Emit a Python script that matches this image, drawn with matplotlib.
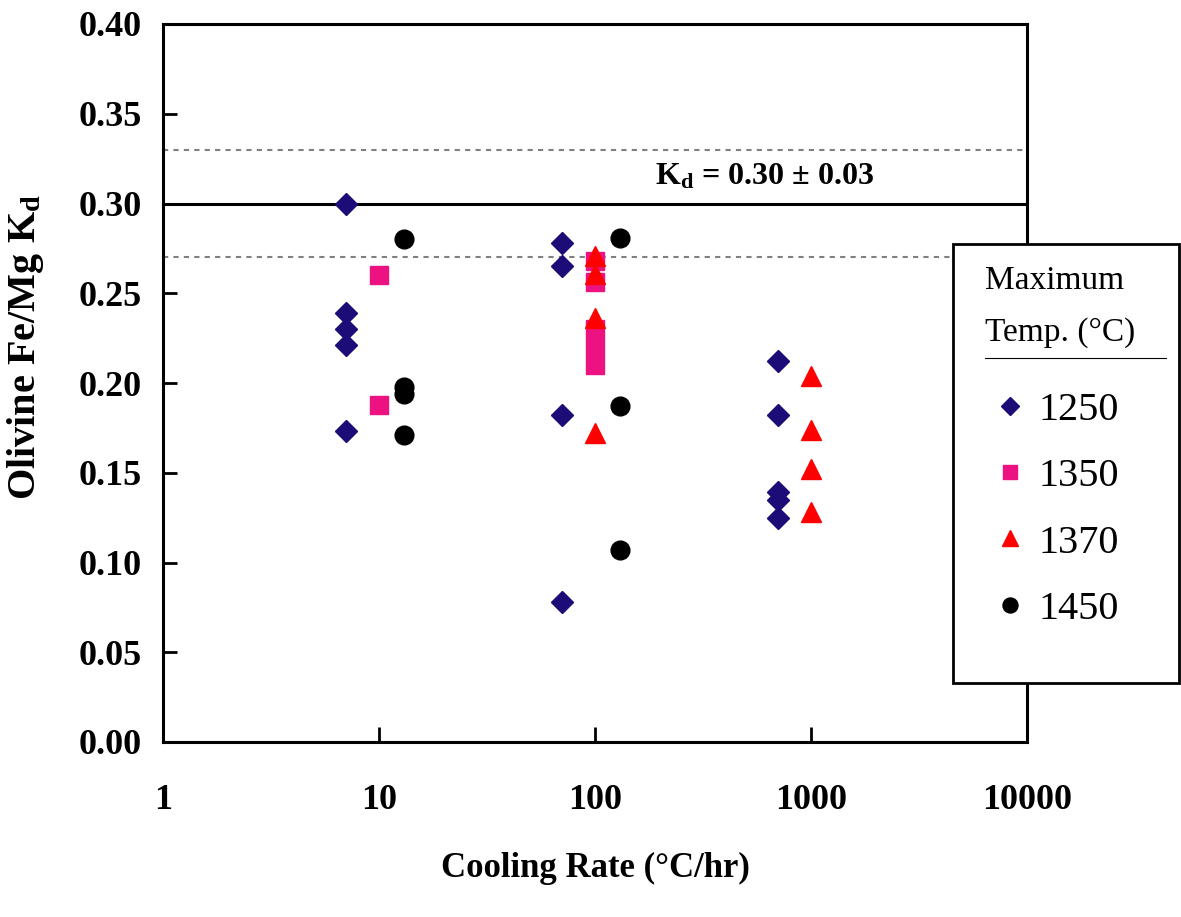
import matplotlib
matplotlib.use('Agg')
import matplotlib.pyplot as plt
from matplotlib.patches import Rectangle
from matplotlib.lines import Line2D

plt.rcParams['font.family'] = ['Liberation Serif', 'DejaVu Serif']
plt.rcParams['mathtext.fontset'] = 'custom'
plt.rcParams['mathtext.rm'] = 'Liberation Serif'
plt.rcParams['mathtext.bf'] = 'Liberation Serif:bold'
plt.rcParams['mathtext.it'] = 'Liberation Serif:italic'

# data
rate_1250 = [7, 7, 7, 7, 7, 70, 70, 70, 70, 700, 700, 700, 700, 700]
kd_1250 = [0.300, 0.239, 0.230, 0.221, 0.173, 0.278, 0.265, 0.182, 0.078,
           0.212, 0.182, 0.139, 0.135, 0.125]
rate_1350 = [10, 10, 100, 100, 100, 100, 100]
kd_1350 = [0.260, 0.188, 0.268, 0.256, 0.230, 0.220, 0.210]
rate_1370 = [100, 100, 100, 100, 1000, 1000, 1000, 1000]
kd_1370 = [0.271, 0.261, 0.236, 0.172, 0.204, 0.174, 0.152, 0.128]
rate_1450 = [13, 13, 13, 13, 130, 130, 130]
kd_1450 = [0.280, 0.198, 0.194, 0.171, 0.281, 0.187, 0.107]

kd_mean = 0.30
kd_err = 0.03

x_ticks = [1, 10, 100, 1000, 10000]
x_labels = ['1', '10', '100', '1000', '10000']
y_ticks = [0.0, 0.05, 0.10, 0.15, 0.20, 0.25, 0.30, 0.35, 0.40]
y_labels = ['0.00', '0.05', '0.10', '0.15', '0.20', '0.25', '0.30', '0.35', '0.40']
legend_labels = ['1250', '1350', '1370', '1450']

W, H = 1181, 917
fig = plt.figure(figsize=(W / 100, H / 100), dpi=100)
ax = fig.add_axes([163 / W, 1 - 742 / H, (1027 - 163) / W, (742 - 24) / H])

# Kd reference lines
ax.axhline(kd_mean, color='black', lw=2.2, zorder=1)
ax.axhline(kd_mean + kd_err, color='#808080', lw=1.5, ls=(0, (2.5, 2.5)), zorder=1)
ax.axhline(kd_mean - kd_err, color='#808080', lw=1.5, ls=(0, (2.5, 2.5)), zorder=1)

h1, = ax.plot(rate_1250, kd_1250, 'D', ms=11, color='#1B0C78', ls='none', zorder=3)
h2, = ax.plot(rate_1350, kd_1350, 's', ms=12.5, color='#EC1282', ls='none', zorder=3)
h3, = ax.plot(rate_1370, kd_1370, '^', ms=15, color='#FF0000', ls='none', zorder=4)
h4, = ax.plot(rate_1450, kd_1450, 'o', ms=13.5, color='black', ls='none', zorder=3)

ax.text(610, 0.315, r'K$_{\mathbf{d}}$ = 0.30 ± 0.03', fontsize=23, fontweight='bold',
        ha='center', va='center')

ax.set_xscale('log')
ax.set_xlim(1, 10000)
ax.set_ylim(0, 0.40)
ax.set_xticks(x_ticks)
ax.set_xticklabels(x_labels)
ax.xaxis.set_minor_locator(matplotlib.ticker.NullLocator())
ax.set_yticks(y_ticks)
ax.set_yticklabels(y_labels)

ax.tick_params(axis='x', direction='in', length=11, width=2, pad=30, labelsize=26)
ax.tick_params(axis='y', direction='in', length=10, width=2, pad=15, labelsize=26)
for lab in ax.get_xticklabels() + ax.get_yticklabels():
    lab.set_fontweight('bold')
for sp in ax.spines.values():
    sp.set_linewidth(2.2)

ax.set_xlabel('Cooling Rate (°C/hr)', fontsize=25, fontweight='bold')
ax.xaxis.set_label_coords(0.5, -0.153)
ax.set_ylabel(r'Olivine Fe/Mg K$_{\mathbf{d}}$', fontsize=29, fontweight='bold')
ax.yaxis.set_label_coords(-0.135, 0.55)

# legend box sitting over the right side of the axes
box = Rectangle((953 / W, 1 - 683 / H), (1179 - 953) / W, (683 - 244) / H,
                transform=fig.transFigure, facecolor='white', edgecolor='black',
                lw=2, zorder=5)
fig.patches.append(box)
fig.text(985 / W, 1 - 281 / H, 'Maximum', fontsize=24, ha='left', va='center', zorder=6)
fig.text(985 / W, 1 - 333 / H, 'Temp. (°C)', fontsize=24, ha='left', va='center', zorder=6)
fig.lines.append(Line2D([985 / W, 1166 / W], [1 - 358 / H, 1 - 358 / H],
                        transform=fig.transFigure, color='black', lw=0.8, zorder=6))
leg = fig.legend([h1, h2, h3, h4], legend_labels, loc='upper left',
                 bbox_to_anchor=(994 / W, 1 - 392 / H), frameon=False,
                 fontsize=29, handlelength=0.8, handletextpad=0.3,
                 labelspacing=0.72, borderpad=0, borderaxespad=0, markerscale=0.8)
leg.set_zorder(7)

fig.savefig('out.png', dpi=100)
